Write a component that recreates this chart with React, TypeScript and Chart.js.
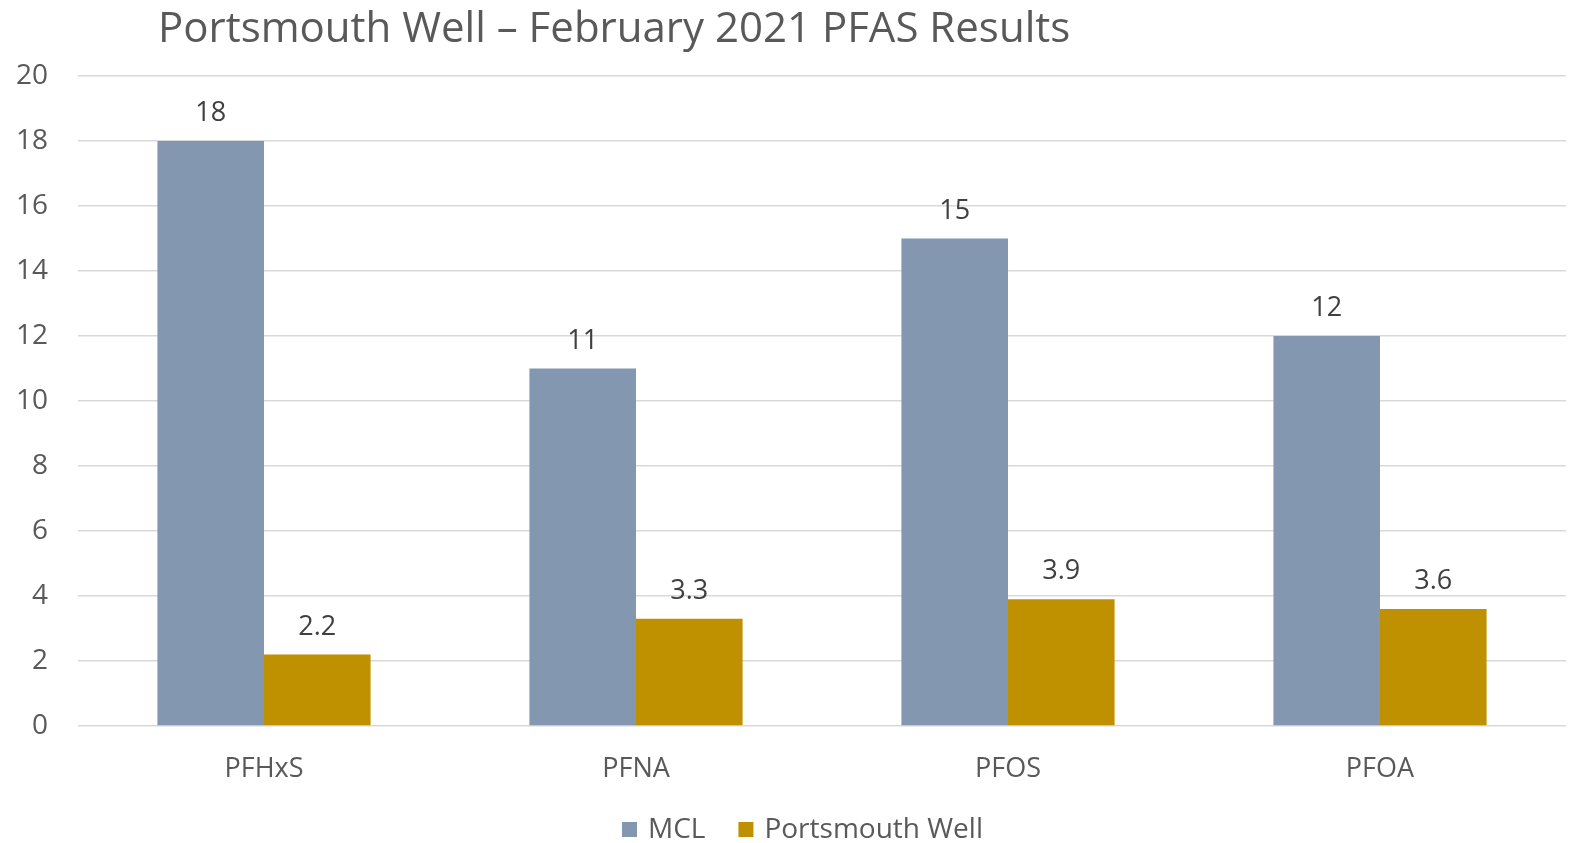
import React, { useEffect, useRef } from "react";
import { Chart, registerables } from "chart.js";

Chart.register(...registerables);

const titleText = "Portsmouth Well – February 2021 PFAS Results";
const categories = ["PFHxS", "PFNA", "PFOS", "PFOA"];
const seriesNames = ["MCL", "Portsmouth Well"];
const mclValues = [18, 11, 15, 12];
const wellValues = [2.2, 3.3, 3.9, 3.6];
const yMin = 0;
const yMax = 20;
const yStep = 2;

const FONT = "'Open Sans', 'Noto Sans', sans-serif";
const COLORS = ["#8497B0", "#BF9000"];

const overlayPlugin = {
  id: "overlay",
  afterDatasetsDraw(chart: any) {
    const ctx = chart.ctx;
    ctx.save();
    ctx.font = `27px ${FONT}`;
    ctx.fillStyle = "#404040";
    ctx.textAlign = "center";
    ctx.textBaseline = "alphabetic";
    chart.data.datasets.forEach((ds: any, di: number) => {
      const meta = chart.getDatasetMeta(di);
      meta.data.forEach((bar: any, i: number) => {
        ctx.fillText(String(ds.data[i]), bar.x, bar.y - 20);
      });
    });
    ctx.restore();
  },
  afterDraw(chart: any) {
    const ctx = chart.ctx;
    ctx.save();
    // title
    ctx.font = `42px ${FONT}`;
    ctx.fillStyle = "#595959";
    ctx.textAlign = "left";
    ctx.textBaseline = "alphabetic";
    ctx.fillText(titleText, 158, 42);
    // legend
    ctx.font = `28px ${FONT}`;
    ctx.textBaseline = "middle";
    let x = 622;
    const y = 829;
    chart.data.datasets.forEach((ds: any) => {
      ctx.fillStyle = ds.backgroundColor;
      ctx.fillRect(x, y - 7, 15, 15);
      x += 26;
      ctx.fillStyle = "#595959";
      ctx.fillText(ds.label, x, y + 1);
      x += ctx.measureText(ds.label).width + 33;
    });
    ctx.restore();
  },
};

export default function App() {
  const ref = useRef<HTMLCanvasElement | null>(null);
  useEffect(() => {
    document.body.style.margin = "0";
    const canvas = ref.current;
    if (!canvas) return;
    const chart = new Chart(canvas, {
      type: "bar",
      data: {
        labels: categories,
        datasets: [
          { label: seriesNames[0], data: mclValues, backgroundColor: COLORS[0] },
          { label: seriesNames[1], data: wellValues, backgroundColor: COLORS[1] },
        ],
      },
      options: {
        responsive: false,
        animation: false,
        devicePixelRatio: 1,
        layout: { padding: { top: 76, right: 3, left: 0, bottom: 0 } },
        datasets: {
          bar: { barPercentage: 1, categoryPercentage: 0.573 },
        },
        plugins: {
          legend: { display: false },
          title: { display: false },
          tooltip: { enabled: false },
        },
        scales: {
          x: {
            grid: { display: false, drawTicks: false },
            border: { display: false },
            ticks: { color: "#595959", font: { family: FONT, size: 27 }, padding: 27 },
            afterFit: (s: any) => {
              s.height = 117;
            },
          },
          y: {
            min: yMin,
            max: yMax,
            grid: { color: "#D9D9D9", lineWidth: 1.5, drawTicks: false },
            border: { display: false },
            ticks: {
              stepSize: yStep,
              color: "#595959",
              font: { family: FONT, size: 28 },
              padding: 30,
            },
            afterFit: (s: any) => {
              s.width = 78;
            },
          },
        },
      },
      plugins: [overlayPlugin],
    });
    return () => chart.destroy();
  }, []);
  return (
    <div style={{ width: 1569, height: 843, background: "#fff" }}>
      <canvas ref={ref} width={1569} height={843} style={{ display: "block" }} />
    </div>
  );
}
